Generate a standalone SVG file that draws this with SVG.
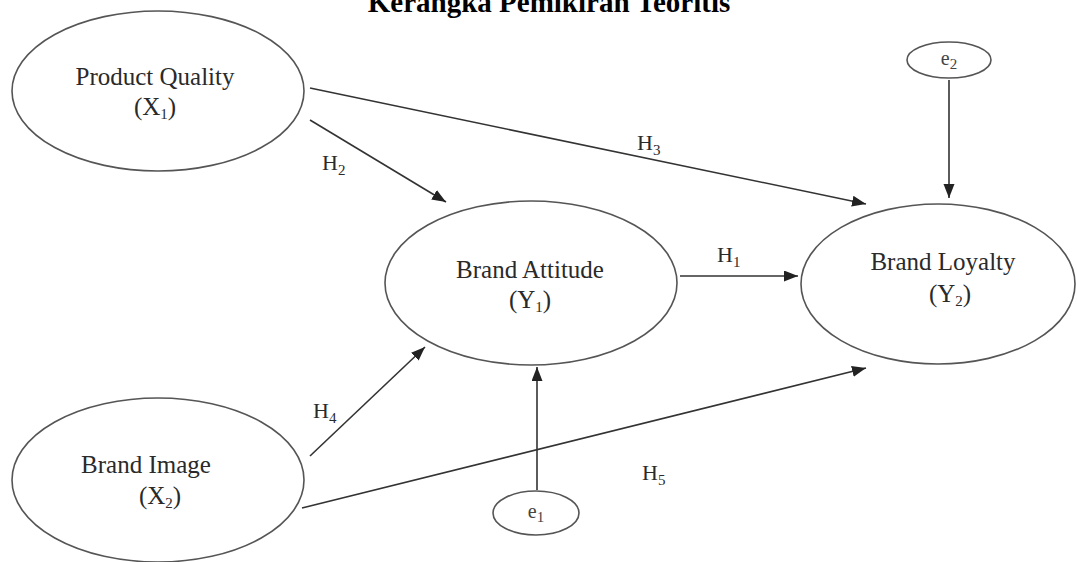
<svg xmlns="http://www.w3.org/2000/svg" width="1077" height="562" viewBox="0 0 1077 562">
<style>
.node{fill:#fff;stroke:#555;stroke-width:1.6}
.t{font-family:"Liberation Serif","Times New Roman",serif;font-size:25px;fill:#2a2a2a;text-anchor:middle}
.lab{font-family:"Liberation Serif","Times New Roman",serif;font-size:22px;fill:#2a2a2a}
.e{font-family:"Liberation Serif","Times New Roman",serif;font-size:20px;fill:#444;text-anchor:middle}
.sub{font-size:15px}
.c{stroke:#333;stroke-width:1.6;fill:none;marker-end:url(#ah)}
.title{font-family:"Liberation Serif","Times New Roman",serif;font-size:29px;font-weight:bold;fill:#000;text-anchor:middle}
</style>
<defs>
<marker id="ah" markerUnits="userSpaceOnUse" markerWidth="15" markerHeight="12" refX="14" refY="5.5" orient="auto">
<path d="M0,0 L14,5.5 L0,11 z" fill="#222"/>
</marker>
</defs>
<rect width="1077" height="562" fill="#fff"/>
<text class="title" x="549" y="12">Kerangka Pemikiran Teoritis</text>
<g id="connectors">
<path class="c" d="M310,88 L866,204"/>
<path class="c" d="M310,120 L446,202"/>
<path class="c" d="M680,276 L798,276"/>
<path class="c" d="M310,456 L425,347"/>
<path class="c" d="M302,508 L866,368"/>
<path class="c" d="M537,490 L537,367"/>
<path class="c" d="M949,80 L949,198"/>
</g>
<g id="labels">
<text class="lab" x="637" y="150">H<tspan class="sub" dy="5">3</tspan></text>
<text class="lab" x="322" y="170">H<tspan class="sub" dy="5">2</tspan></text>
<text class="lab" x="717" y="262">H<tspan class="sub" dy="5">1</tspan></text>
<text class="lab" x="313" y="418">H<tspan class="sub" dy="5">4</tspan></text>
<text class="lab" x="642" y="480">H<tspan class="sub" dy="5">5</tspan></text>
</g>
<g id="product-quality">
<ellipse class="node" cx="158" cy="91" rx="146" ry="80"/>
<text class="t" x="155" y="85">Product Quality</text>
<text class="t" x="155" y="115">(X<tspan class="sub" dy="4">1</tspan><tspan dy="-4">)</tspan></text>
</g>
<g id="brand-attitude">
<ellipse class="node" cx="531" cy="283" rx="146" ry="82"/>
<text class="t" x="530" y="278">Brand Attitude</text>
<text class="t" x="530" y="308">(Y<tspan class="sub" dy="4">1</tspan><tspan dy="-4">)</tspan></text>
</g>
<g id="brand-loyalty">
<ellipse class="node" cx="938" cy="284" rx="137" ry="80"/>
<text class="t" x="943" y="270">Brand Loyalty</text>
<text class="t" x="950" y="302">(Y<tspan class="sub" dy="4">2</tspan><tspan dy="-4">)</tspan></text>
</g>
<g id="brand-image">
<ellipse class="node" cx="158" cy="480" rx="146" ry="82"/>
<text class="t" x="146" y="473">Brand Image</text>
<text class="t" x="160" y="504">(X<tspan class="sub" dy="4">2</tspan><tspan dy="-4">)</tspan></text>
</g>
<g id="e1">
<ellipse class="node" cx="536" cy="513" rx="43" ry="22"/>
<text class="e" x="536" y="518">e<tspan class="sub" dy="4">1</tspan></text>
</g>
<g id="e2">
<ellipse class="node" cx="949" cy="60" rx="42" ry="18"/>
<text class="e" x="949" y="65">e<tspan class="sub" dy="4">2</tspan></text>
</g>
</svg>
